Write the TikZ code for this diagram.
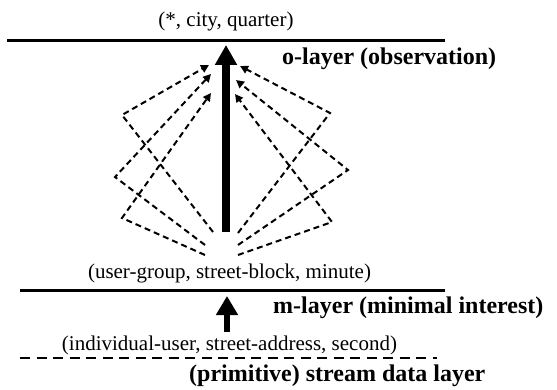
\documentclass[tikz,border=0pt]{standalone}
\usepackage{fontspec}
\setmainfont{Liberation Serif}
\usetikzlibrary{positioning, arrows.meta}

\begin{document}
\begin{tikzpicture}[
    x=1pt, y=-1pt,
    tuple/.style={inner sep=0pt, font=\fontsize{21}{25}\selectfont},
    layer/.style={inner sep=0pt, anchor=west, font=\fontsize{24}{28}\selectfont\bfseries},
    solidline/.style={draw, line width=3pt},
    dashline/.style={draw, line width=2.5pt, dash pattern=on 10pt off 6.5pt},
    bigarrow/.style={draw, line width=8pt, -{Triangle[length=20pt, width=21pt]}},
    upstep/.style={draw, line width=5.5pt, -{Triangle[length=19pt, width=21pt]}},
    rollup/.style={draw, line width=2pt, dash pattern=on 6pt off 4pt, -{Triangle[length=8pt, width=8pt]}}
]
\useasboundingbox (0,0) rectangle (557,390);

% Nodes
\node[tuple] (otuple) at (226,21) {(*, city, quarter)};
\node[layer] (olayer) at (282,59) {o-layer (observation)};
\node[tuple] (mtuple) at (229.5,273) {(user-group, street-block, minute)};
\node[layer] (mlayer) at (273,308) {m-layer (minimal interest)};
\node[tuple] (ptuple) at (229.5,345) {(individual-user, street-address, second)};
\node[layer] (player) at (189,376) {(primitive) stream data layer};

% Layer lines
\coordinate (oleft) at (7,41);   \coordinate (oright) at (445,41);
\coordinate (mleft) at (20,290); \coordinate (mright) at (445,290);
\coordinate (pleft) at (20,358); \coordinate (pright) at (437,358);

% Arrow ends
\coordinate (mbase) at (226,232); \coordinate (otip) at (226,45);
\coordinate (pbase) at (227,332); \coordinate (mtip) at (227,296);

% Dashed roll-up paths (left)
\coordinate (lb1) at (213,232); \coordinate (lc1) at (122,115); \coordinate (lt1) at (209,65);
\coordinate (lb2) at (205,245); \coordinate (lc2) at (115,177); \coordinate (lt2) at (211,74);
\coordinate (lb3) at (205,255); \coordinate (lc3) at (122,218); \coordinate (lt3) at (211,93);

% Dashed roll-up paths (right)
\coordinate (rb1) at (238,233); \coordinate (rc1) at (330,113); \coordinate (rt1) at (240,66);
\coordinate (rb2) at (238,245); \coordinate (rc2) at (348,170); \coordinate (rt2) at (236,80);
\coordinate (rb3) at (238,255); \coordinate (rc3) at (332,222); \coordinate (rt3) at (235,94);

% Paths
\draw[solidline] (oleft) -- (oright);
\draw[solidline] (mleft) -- (mright);
\draw[dashline] (pleft) -- (pright);

\draw[bigarrow] (mbase) -- (otip);
\draw[upstep] (pbase) -- (mtip);

\draw[rollup] (lb1) -- (lc1) -- (lt1);
\draw[rollup] (lb2) -- (lc2) -- (lt2);
\draw[rollup] (lb3) -- (lc3) -- (lt3);
\draw[rollup] (rb1) -- (rc1) -- (rt1);
\draw[rollup] (rb2) -- (rc2) -- (rt2);
\draw[rollup] (rb3) -- (rc3) -- (rt3);

\end{tikzpicture}
\end{document}
